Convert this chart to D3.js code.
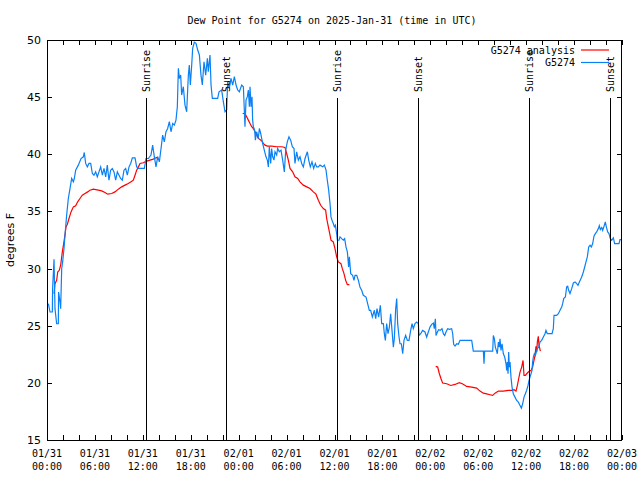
<!DOCTYPE html>
<html>
<head>
<meta charset="utf-8">
<script src="https://cdn.jsdelivr.net/npm/d3@7"></script>
<style>
  html, body { margin: 0; padding: 0; background: #fff; }
  svg { display: block; }
  .mono { font-family: "DejaVu Sans Mono", monospace; font-size: 10px; }
  .sans { font-family: "DejaVu Sans", sans-serif; font-size: 11px; }
</style>
</head>
<body>
<script>
// ---------- data (hours since 2025-01-31 00:00 UTC) ----------
const titleText = "Dew Point for G5274 on 2025-Jan-31 (time in UTC)";
const yLabel = "degrees F";
const seriesNames = ["G5274 analysis", "G5274"];
const yTicks = [15, 20, 25, 30, 35, 40, 45, 50];

const obsHours = [0.17,0.38,0.67,0.7,0.88,1.0,1.21,1.42,1.45,1.63,1.71,1.84,1.96,2.13,2.25,2.46,2.67,2.88,3.09,3.3,3.42,3.59,3.92,4.26,4.55,4.67,4.84,5.05,5.26,5.47,5.68,5.88,6.09,6.3,6.51,6.72,6.93,7.14,7.35,7.55,7.76,7.97,8.18,8.39,8.6,8.81,9.02,9.22,9.43,9.64,9.85,10.06,10.27,10.48,10.69,11.02,11.23,11.44,11.85,12.19,12.4,12.69,13.02,13.23,13.44,13.65,13.86,14.07,14.28,14.48,14.69,14.9,15.11,15.32,15.53,15.74,15.94,16.15,16.32,16.45,16.57,16.74,16.86,17.07,17.28,17.49,17.7,17.82,17.95,18.12,18.24,18.45,18.66,18.87,19.08,19.28,19.45,19.66,19.87,20.08,20.2,20.41,20.54,20.7,21.04,21.37,21.54,21.87,22.08,22.29,22.5,22.62,22.83,23.04,23.25,23.46,23.67,23.88,24.08,
24.38,24.59,24.79,24.92,25.09,25.21,25.34,25.42,25.55,25.67,25.75,25.84,26.0,26.09,26.25,26.46,26.59,26.76,26.88,27.0,27.21,27.42,27.59,27.72,27.84,28.01,28.13,28.26,28.42,28.55,28.76,28.88,29.09,29.3,29.51,29.72,29.89,30.09,30.3,30.51,30.72,30.93,31.05,31.26,31.47,31.68,31.89,32.1,32.31,32.6,32.77,32.97,33.18,33.39,33.6,33.77,33.98,34.18,34.52,34.73,34.94,35.1,35.27,35.44,35.56,35.69,35.85,35.98,36.11,36.27,36.36,36.56,36.69,36.9,37.11,37.27,37.44,37.61,37.77,37.86,38.03,38.27,38.44,38.57,38.78,38.99,39.19,39.4,39.61,39.95,40.15,40.36,40.53,40.74,40.99,41.16,41.32,41.53,41.74,41.91,42.12,42.24,42.37,42.53,42.7,42.87,43.03,43.2,43.37,43.49,43.66,43.79,43.91,44.08,44.2,44.37,44.54,44.7,44.91,45.12,45.33,45.54,45.71,45.87,46.08,46.29,46.5,46.58,46.79,47.04,47.33,47.54,47.75,
47.96,48.17,48.38,48.5,48.63,48.71,48.88,49.04,49.25,49.46,49.63,49.8,49.96,50.17,50.38,50.67,50.8,50.92,51.09,51.3,51.51,51.72,53.18,53.38,54.64,54.72,54.8,55.81,55.89,56.02,56.14,56.27,56.39,56.52,56.64,56.72,56.85,56.98,57.14,57.31,57.48,57.56,57.64,57.73,57.81,57.89,57.98,58.1,58.23,58.39,58.6,58.81,59.02,59.23,59.4,59.56,59.73,59.9,60.06,60.23,60.36,60.48,60.61,60.73,60.81,60.9,61.02,61.15,61.27,61.4,61.57,61.73,61.94,62.15,62.36,62.48,62.65,63.24,63.4,63.49,63.82,64.03,64.24,64.45,64.57,64.7,64.91,65.07,65.2,65.32,65.49,65.7,65.91,66.12,66.33,66.49,66.66,66.87,67.03,67.16,67.33,67.49,67.66,67.83,68.0,68.16,68.33,68.49,68.66,68.83,69.04,69.16,69.29,69.46,69.58,69.75,69.91,70.04,70.21,70.37,70.54,70.71,70.92,71.08,71.62,71.75,71.88];
const obsDew = [26.93,26.2,26.2,28.24,30.81,26.49,25.17,25.17,27.95,27.07,26.49,29.99,30.58,31.75,32.92,34.67,36.13,37.0,37.88,37.59,37.88,38.61,39.05,39.63,39.78,40.16,39.2,38.9,39.2,39.2,38.32,38.17,38.46,38.03,38.46,38.9,38.17,38.76,38.03,39.05,37.73,38.61,38.76,38.46,37.73,38.46,38.17,37.88,37.73,38.61,38.76,38.17,38.9,39.2,39.69,39.69,38.9,38.76,38.76,38.76,39.63,39.63,39.93,40.8,39.78,38.9,39.78,39.34,40.51,41.68,41.09,41.97,42.26,42.85,41.97,42.7,42.55,42.99,44.16,47.52,46.64,46.93,45.18,45.91,44.3,43.72,46.93,47.81,46.06,47.81,49.27,49.8,49.71,49.12,48.69,46.93,46.06,48.1,46.93,48.39,47.23,48.69,46.06,44.89,44.89,44.89,45.47,45.62,44.6,43.72,43.87,46.35,45.77,46.64,46.06,46.79,46.06,45.62,45.47,
46.06,45.91,42.41,44.74,45.04,45.62,44.16,45.91,44.16,45.04,42.99,42.41,42.12,41.24,41.97,41.39,42.26,41.82,41.39,40.95,40.36,39.78,39.49,38.9,40.66,39.2,40.51,39.78,39.49,40.22,39.93,40.51,40.22,40.36,39.49,38.46,40.36,41.09,41.53,41.24,40.66,40.51,39.2,40.22,39.49,39.78,39.2,38.9,39.63,40.22,39.49,38.9,39.34,38.76,39.2,38.9,38.9,39.05,38.9,39.05,38.61,37.73,36.86,35.69,34.52,34.23,33.94,33.65,33.79,33.06,32.48,32.48,32.77,32.62,32.48,32.62,31.89,31.46,30.14,31.02,29.56,29.41,28.97,29.41,29.41,28.97,28.39,28.1,27.66,27.51,26.93,26.35,26.35,25.76,26.35,25.61,26.49,25.76,26.78,25.18,25.18,24.3,23.72,25.18,24.3,24.88,26.05,24.59,23.13,23.86,26.49,27.37,25.18,24.01,23.42,23.42,22.55,23.72,24.15,23.72,23.72,24.59,25.18,24.74,25.18,25.32,25.18,24.15,24.3,24.59,24.45,24.01,24.45,
24.88,25.12,25.23,24.74,25.61,24.15,24.45,24.65,24.59,24.74,24.3,24.15,24.45,24.74,24.68,24.74,24.3,23.37,23.22,23.42,23.37,23.72,23.72,22.78,22.78,21.67,22.78,22.78,24.15,23.86,23.13,22.84,22.55,23.57,23.13,23.86,22.84,23.42,22.55,22.26,21.67,21.09,21.82,20.8,22.7,21.38,21.82,20.5,19.63,19.04,18.75,18.46,18.31,18.02,17.79,18.17,18.75,19.04,19.34,19.77,20.21,20.5,20.8,21.09,21.82,22.26,22.55,22.4,22.7,22.99,23.13,23.57,23.72,24.01,24.3,24.59,24.3,24.3,24.74,25.91,25.91,26.05,26.35,26.64,26.93,27.37,27.51,28.39,28.45,28.1,27.81,28.24,28.74,28.83,28.68,28.53,28.83,29.12,29.41,29.7,30.14,30.58,31.02,31.89,32.04,31.89,32.19,32.83,33.06,33.21,33.5,33.76,33.41,33.59,33.35,33.7,34.08,33.65,33.21,33.06,32.62,32.48,32.68,32.19,32.19,32.54,32.54];

// analysis series; null marks a gap
const anaHours = [0.88,1.0,1.21,1.34,1.54,1.71,1.92,2.09,2.25,2.38,2.55,2.75,3.01,3.3,3.59,3.84,4.13,4.42,4.76,5.09,5.38,5.8,6.43,6.85,7.26,7.6,8.1,8.51,8.93,9.35,9.77,10.18,10.52,10.81,11.02,11.23,11.44,11.65,12.06,12.48,12.9,13.31,13.65,13.9,
14.0,
24.5,24.79,25.0,25.21,25.42,25.63,25.84,26.05,26.25,26.46,26.67,26.88,27.09,27.3,27.59,28.13,28.76,29.39,29.8,30.01,30.22,30.43,30.76,31.05,31.39,31.68,32.1,32.52,32.93,33.35,33.68,33.98,34.27,34.6,34.89,35.02,35.23,35.44,35.56,35.85,36.06,36.27,36.48,36.81,36.98,37.19,37.4,37.61,37.86,
38.0,
48.67,48.92,49.13,49.34,49.54,50.05,50.55,51.09,51.63,52.01,52.55,53.18,53.8,54.22,54.64,55.05,55.47,55.81,56.1,56.52,57.14,57.77,58.19,58.48,58.73,58.9,59.06,59.23,59.44,59.61,59.73,59.9,60.15,60.4,60.61,60.81,60.98,61.11,61.23,61.32,61.4,61.52,61.61,61.78];
const anaDew = [27.8,28.68,28.97,29.7,29.85,30.29,31.46,32.19,32.92,33.65,33.88,34.38,34.96,35.4,35.49,35.84,36.13,36.42,36.57,36.71,36.86,36.95,36.86,36.8,36.65,36.51,36.57,36.71,36.95,37.15,37.3,37.44,37.59,37.73,38.17,38.61,38.9,39.2,39.26,39.4,39.49,39.58,39.69,39.75,
null,
43.57,43.57,43.28,42.99,42.7,42.41,42.26,41.97,41.68,41.39,41.3,41.18,40.95,40.8,40.71,40.71,40.66,40.66,40.6,40.07,39.49,38.76,38.47,38.03,37.88,37.59,37.3,37.15,37.0,36.71,36.51,35.98,35.54,35.25,35.11,34.38,33.65,32.92,32.48,32.33,31.75,31.02,30.58,30.43,29.99,29.56,28.97,28.59,28.59,
null,
21.44,21.38,20.8,20.36,19.98,19.92,19.77,19.86,20.01,19.92,19.69,19.63,19.54,19.28,19.1,19.04,18.96,18.9,19.1,19.28,19.28,19.34,19.34,19.4,19.28,19.77,20.36,20.94,21.38,21.96,20.65,20.65,20.86,21.03,21.09,21.38,21.96,22.4,23.19,22.7,23.57,24.07,23.28,22.78];

const sunHours = [12.38, 22.45, 36.36, 46.48, 60.36, 70.5];
const sunLabels = ["Sunrise", "Sunset", "Sunrise", "Sunset", "Sunrise", "Sunset"];

// ---------- layout ----------
const W = 640, H = 480;
const L = 47, R = 622, T = 40, B = 440;
const t0 = Date.UTC(2025, 0, 31);
const toDate = h => new Date(t0 + h * 3600e3);

const svg = d3.select("body").append("svg").attr("width", W).attr("height", H);

const x = d3.scaleUtc().domain([toDate(0), toDate(72)]).range([L, R]);
const y = d3.scaleLinear().domain([15, 50]).range([B, T]);

// title
svg.append("text").attr("class", "mono")
  .attr("x", 332).attr("y", 24).attr("text-anchor", "middle").text(titleText);

// y label
svg.append("text").attr("class", "sans")
  .attr("transform", `translate(14,240) rotate(-90)`)
  .attr("text-anchor", "middle").text(yLabel);

const tickHours = d3.range(0, 73, 2).map(toDate);
const fmtDay = d3.utcFormat("%m/%d"), fmtTime = d3.utcFormat("%H:%M");

// bottom axis
const gx = svg.append("g").attr("transform", `translate(0,${B})`)
  .call(d3.axisBottom(x).tickValues(tickHours).tickSizeInner(-5).tickSizeOuter(0).tickFormat(""));
gx.select(".domain").remove();
const labelDates = d3.range(0, 73, 6).map(toDate);
const lab = svg.append("g").attr("class", "mono");
labelDates.forEach(d => {
  const t = lab.append("text").attr("text-anchor", "middle").attr("x", x(d));
  t.append("tspan").attr("x", x(d)).attr("y", 457).text(fmtDay(d));
  t.append("tspan").attr("x", x(d)).attr("y", 470).text(fmtTime(d));
});

// top mirror
const gxt = svg.append("g").attr("transform", `translate(0,${T})`)
  .call(d3.axisTop(x).tickValues(tickHours).tickSizeInner(-5).tickSizeOuter(0).tickFormat(""));
gxt.select(".domain").remove();

// left axis
const gy = svg.append("g").attr("transform", `translate(${L},0)`)
  .call(d3.axisLeft(y).tickValues(yTicks).tickSizeInner(-5).tickSizeOuter(0).tickPadding(6));
gy.select(".domain").remove();
gy.selectAll("text").attr("class", "sans").attr("font-family", null).attr("font-size", null).attr("fill", "#000");

// right mirror
const gyr = svg.append("g").attr("transform", `translate(${R},0)`)
  .call(d3.axisRight(y).tickValues(yTicks).tickSizeInner(-5).tickSizeOuter(0).tickFormat(""));
gyr.select(".domain").remove();

svg.selectAll(".tick line").attr("stroke", "#000").attr("shape-rendering", "crispEdges");

// data lines
const clip = svg.append("clipPath").attr("id", "clip").append("rect")
  .attr("x", L).attr("y", T).attr("width", R - L).attr("height", B - T);

const anaData = anaHours.map((h, i) => ({ t: toDate(h), v: anaDew[i] }));
const obsData = obsHours.map((h, i) => ({ t: toDate(h), v: obsDew[i] }));
const line = d3.line().defined(d => d.v != null).x(d => x(d.t)).y(d => y(d.v));

const plot = svg.append("g").attr("clip-path", "url(#clip)");
plot.append("path").datum(anaData).attr("d", line)
  .attr("fill", "none").attr("stroke", "#ff0000").attr("stroke-width", 1.2);
plot.append("path").datum(obsData).attr("d", line)
  .attr("fill", "none").attr("stroke", "#0a80f5").attr("stroke-width", 1.2);

// sunrise / sunset markers
sunHours.forEach((h, i) => {
  const xx = Math.round(x(toDate(h))) + 0.5;
  svg.append("line").attr("x1", xx).attr("x2", xx).attr("y1", 98).attr("y2", B)
    .attr("stroke", "#000").attr("stroke-width", 1);
  svg.append("text").attr("class", "mono")
    .attr("transform", `translate(${xx},92) rotate(-90)`)
    .attr("dy", "0.35em").attr("text-anchor", "start").text(sunLabels[i]);
});

// legend
const legColors = ["#ff0000", "#0a80f5"];
seriesNames.forEach((name, i) => {
  const yy = 50 + i * 12.5;
  svg.append("text").attr("class", "mono").attr("x", 575).attr("y", yy + 3.5)
    .attr("text-anchor", "end").text(name);
  svg.append("line").attr("x1", 581).attr("x2", 609).attr("y1", yy).attr("y2", yy)
    .attr("stroke", legColors[i]).attr("stroke-width", 1.2);
});

// border
svg.append("rect").attr("x", L + 0.5).attr("y", T + 0.5).attr("width", R - L - 1).attr("height", B - T)
  .attr("fill", "none").attr("stroke", "#000").attr("stroke-width", 1);
</script>
</body>
</html>
